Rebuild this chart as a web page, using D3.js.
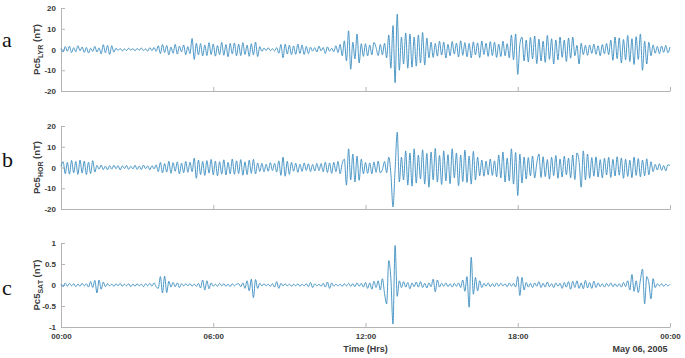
<!DOCTYPE html>
<html>
<head>
<meta charset="utf-8">
<script src="https://cdn.jsdelivr.net/npm/d3@7"></script>
<style>
  body { margin: 0; background: #fff; }
  .axis path, .axis line { stroke: #b4b4b4; }
  .axis text { fill: #3a3a3a; font-family: "Liberation Sans", Arial, sans-serif; font-weight: bold; font-size: 8px; }
</style>
</head>
<body>
<div id="chart"></div>
<script>
// Pc5 filtered field, one value every 5 minutes, 5 May 2005 00:00 UT -> 6 May 00:00 UT (one row = one hour)
const lyr = [
  0.5, -1.2, 1.4, -0.8, 1.6, -1.5, 0.9, -1.1, 1.8, -0.6, 1.2, -1.4,
  1.0, -1.7, 0.6, -0.9, 1.5, -1.2, 0.8, -2.1, 2.3, -1.6, 2.0, -2.4,
  1.8, -1.3, 0.6, -0.4, 0.5, -0.7, 0.3, -0.5, 0.6, -0.3, 0.4, -0.6,
  0.5, -0.4, 0.7, -0.5, 0.3, -0.8, 0.9, -0.6, 1.0, -0.9, 1.8, -2.0,
  2.4, -1.5, 1.9, -2.6, 1.2, -1.8, 2.5, -2.2, 1.6, -1.1, 2.2, -2.5,
  1.4, -2.0, 5.3, -4.8, 3.0, -2.6, 2.8, -3.1, 2.2, -2.9, 3.3, -2.4,
  2.7, -3.2, 1.9, -2.5, 3.4, -2.8, 2.4, -3.5, 2.9, -2.1, 3.1, -3.0,
  2.6, -2.9, 3.3, -2.4, 2.1, -3.3, 2.8, -2.6, 3.6, -3.4, 1.4, -0.9,
  0.7, -0.5, 0.8, -0.6, 0.4, -0.7, 0.9, -1.8, 2.4, -4.0, 2.6, -2.2,
  2.1, -2.5, 1.7, -2.3, 2.6, -1.9, 2.2, -2.4, 1.5, -2.0, 1.1, -0.8,
  0.9, -1.2, 1.6, -0.7, 1.0, -1.9, 1.3, -0.8, 0.6, -1.1, 1.8, -1.5,
  2.5, -3.0, 4.2, -5.5, 9.0, -9.5, 3.5, -4.5, 7.5, -6.5, 2.8, -3.3,
  2.8, -3.1, 2.2, -2.6, 3.4, 1.0, -2.9, 2.4, -2.5, 3.0, -4.0, 7.0,
  -9.0, 11.5, -16.0, 17.0, -10.0, 6.0, -7.0, 8.0, -9.0, 7.5, -8.5, 6.0,
  -8.0, 7.0, -6.5, 8.2, -7.5, 5.5, -4.0, 3.5, -3.8, 2.9, -3.2, 4.0,
  -2.7, 3.6, -4.1, 2.5, -3.0, 3.8, -2.2, 3.1, -3.6, 4.2, -2.8, 3.3,
  -3.5, 2.9, -4.0, 3.7, -2.6, 3.2, -3.9, 4.1, -2.4, 3.0, -3.3, 3.8,
  -2.9, 3.5, -3.8, 2.6, -3.4, 4.0, -3.0, 2.8, -4.0, 7.0, -5.0, 7.5,
  -12.0, 2.5, 6.0, -5.5, 4.5, -6.0, 5.8, -4.5, 6.5, -6.8, 5.0, -5.5,
  4.0, -6.2, 6.8, -4.8, 5.2, -7.0, 4.6, -5.0, 6.0, -3.8, 4.5, -5.8,
  5.5, -4.2, 6.0, -3.0, 2.0, -7.0, 3.0, -2.5, 2.0, -2.8, 2.2, -1.9,
  2.6, -2.3, 1.8, -3.0, 2.4, -2.1, 2.9, -2.5, 4.5, -5.2, 6.0, -4.4,
  5.6, -6.5, 4.8, -5.0, 6.8, -5.8, 5.2, -7.2, 6.2, -4.8, 7.5, -10.0,
  4.0, -7.0, 3.5, -3.0, 2.2, -1.8, 1.5, -2.0, 1.7, -1.4, 2.0, -1.6,
  1.2
];

const hor = [
  0.5, 2.8, -3.0, 2.5, -3.2, 3.4, -2.6, 2.9, -3.3, 3.6, -2.7, 3.1,
  -3.4, 2.6, -2.9, 3.3, -2.2, 1.0, -0.8, 1.2, -1.0, 0.7, -1.1, 0.9,
  -0.8, 1.1, -0.6, 0.9, -1.2, 0.8, -0.5, 1.0, -0.9, 0.6, -0.7, 1.1,
  -0.9, 0.7, -1.0, 1.2, -0.6, 0.8, -1.1, 0.9, -0.7, 1.3, -2.0, 2.5,
  -2.6, 1.9, -2.2, 3.0, -2.8, 2.3, -1.8, 2.7, -3.1, 2.1, -2.5, 2.9,
  -2.3, 2.6, -2.0, 4.5, -5.2, 3.6, -3.4, 2.9, -3.8, 3.3, -2.7, 3.9,
  -3.5, 3.0, -4.0, 2.8, -3.2, 3.7, -3.6, 2.5, -3.0, 4.1, -3.3, 3.2,
  -2.9, 3.8, -3.7, 2.7, -3.4, 3.5, -2.8, 3.9, -3.1, 2.2, -1.9, 2.0,
  -2.1, 1.6, -1.8, 2.3, -1.5, 2.0, -2.2, 3.2, -3.8, 5.0, -4.2, 3.0,
  -3.3, 2.5, -1.8, 2.1, -2.3, 1.6, -1.9, 2.2, -1.4, 1.8, -2.0, 1.5,
  -1.7, 2.0, -1.5, 1.9, -2.1, 2.6, -2.4, 2.2, -2.8, 2.5, -2.0, 2.9,
  -3.0, 2.0, 4.0, -8.5, 9.0, -6.0, 6.5, -7.0, 5.5, -6.2, 4.0, -3.0,
  2.4, -2.8, 2.2, -3.0, 2.7, -2.3, 3.1, -2.6, -1.0, 2.9, -2.5, 5.0,
  -3.0, -19.0, -1.0, 17.0, -7.0, 5.0, -6.0, 8.0, -8.5, 7.0, -9.0, 9.0,
  -7.5, 6.0, -5.5, 8.5, -8.0, 6.8, -9.5, 7.5, -6.0, 9.2, -7.0, 5.8,
  -8.2, 8.0, -6.5, 6.2, -7.8, 9.0, -5.0, 7.0, -8.8, 6.0, -6.8, 8.4,
  -7.2, 5.5, -8.0, 7.8, -6.0, 5.0, -4.0, 3.6, -4.2, 3.0, -3.5, 4.1,
  -3.8, 3.2, -4.5, 6.0, -5.0, 7.5, -7.0, 4.5, -6.5, 9.0, -8.0, 7.2,
  -13.5, 6.5, -7.5, 5.0, -5.5, 4.8, -4.0, 5.5, -5.0, 2.0, 6.5, -4.8,
  5.2, -4.4, 3.8, -5.6, 4.9, -3.9, 5.8, -5.2, 4.1, -4.6, 5.4, -3.5,
  4.5, -5.0, 6.0, -5.8, 7.0, 3.0, -9.5, 8.0, -6.0, 6.5, -5.2, 4.8,
  -4.2, 5.1, -4.6, 3.8, -5.0, 4.4, -3.6, 4.9, -4.8, 3.9, -4.1, 5.2,
  -3.7, 4.6, -5.2, 4.0, -4.3, 3.5, -4.9, 5.0, -3.8, 4.3, -4.5, 3.6,
  -4.0, 4.2, -3.5, 2.8, -2.0, 1.5, -1.2, 1.8, -1.4, 1.0, -1.6, 1.3,
  1.0
];

const sat = [
  0.02, -0.04, 0.05, -0.03, 0.04, -0.02, 0.03, -0.04, 0.02, -0.03, 0.04, -0.02,
  0.03, -0.05, 0.08, -0.06, 0.11, -0.19, 0.12, -0.10, 0.07, -0.04, 0.03, -0.02,
  0.02, -0.03, 0.03, -0.02, 0.04, -0.03, 0.02, -0.02, 0.03, -0.04, 0.02, -0.03,
  0.03, -0.02, 0.02, -0.04, 0.03, -0.02, 0.04, -0.03, 0.05, -0.04, -0.08, 0.20,
  -0.19, 0.21, -0.18, 0.09, -0.05, 0.06, -0.04, 0.05, -0.06, 0.03, -0.02, 0.03,
  -0.02, 0.03, -0.03, 0.02, -0.03, 0.04, -0.07, 0.12, -0.12, 0.10, -0.09, 0.05,
  -0.03, 0.02, -0.03, 0.04, -0.02, 0.03, -0.03, 0.02, -0.04, 0.03, -0.02, 0.02,
  0.03, -0.04, 0.05, -0.08, 0.10, -0.14, 0.14, -0.30, 0.13, -0.08, 0.04, -0.02,
  0.03, -0.02, 0.02, -0.03, 0.03, -0.05, 0.08, -0.08, 0.04, -0.02, 0.03, -0.02,
  0.02, -0.03, 0.02, -0.02, 0.03, -0.03, 0.02, -0.02, 0.03, -0.04, 0.06, -0.06,
  0.03, -0.02, 0.02, -0.03, 0.04, -0.05, 0.07, -0.08, 0.05, -0.03, 0.02, -0.02,
  0.02, -0.03, 0.03, -0.02, 0.04, -0.03, 0.03, -0.04, 0.05, -0.03, 0.04, -0.05,
  0.06, -0.08, 0.05, -0.10, 0.09, -0.06, 0.10, -0.12, 0.15, -0.20, -0.45, 0.58,
  0.15, -0.93, 0.94, -0.27, 0.10, -0.06, 0.08, -0.05, 0.06, -0.09, 0.05, -0.04,
  0.07, -0.05, 0.08, -0.06, 0.04, -0.07, 0.05, -0.04, 0.14, -0.16, 0.12, -0.05,
  0.04, -0.03, 0.05, -0.04, 0.03, -0.05, 0.04, -0.03, 0.05, -0.06, 0.12, -0.15,
  0.20, -0.53, 0.66, -0.22, 0.18, -0.14, 0.10, -0.06, 0.04, -0.03, 0.05, -0.04,
  0.03, -0.04, 0.05, -0.03, 0.04, -0.02, 0.03, -0.04, 0.05, -0.03, 0.04, -0.05,
  0.20, -0.25, 0.18, -0.12, 0.06, -0.05, 0.04, -0.06, 0.05, -0.03, 0.08, -0.06,
  0.04, -0.05, 0.07, -0.04, 0.03, -0.06, 0.05, -0.03, 0.04, -0.08, 0.06, -0.05,
  0.08, -0.10, 0.09, -0.06, 0.10, -0.08, 0.05, -0.09, 0.11, -0.07, 0.06, -0.08,
  0.09, -0.06, 0.05, -0.04, 0.03, -0.05, 0.04, -0.03, 0.05, -0.04, 0.03, -0.04,
  0.03, -0.05, 0.06, -0.04, 0.10, -0.12, 0.25, -0.15, 0.10, -0.18, 0.12, 0.38,
  -0.45, 0.20, 0.05, -0.33, 0.15, -0.06, 0.03, -0.02, 0.03, -0.03, 0.02, -0.02,
  0.02
];

const nTTicks = [-20, -10, 0, 10, 20];
const satTicks = [-1, -0.5, 0, 0.5, 1];
const hourTicks = [0, 6, 12, 18, 24];
const dayStart = Date.UTC(2005, 4, 5);
const sampleMinutes = 5;

const W = 685, H = 358;
const left = 61, right = 670;
const lineColor = "#3a8cbf";

const svg = d3.select("#chart").append("svg")
  .attr("width", W).attr("height", H)
  .style("display", "block");

const times = d3.range(lyr.length).map(i => new Date(dayStart + i * sampleMinutes * 60000));
const x = d3.scaleUtc().domain([new Date(dayStart), new Date(dayStart + 24 * 3600000)]).range([left, right]);
const xTicks = hourTicks.map(h => new Date(dayStart + h * 3600000));

const panels = [
  { values: lyr, ticks: nTTicks, top: 8,   bottom: 91,  sub: "LYR", letter: "a", letterY: 47 },
  { values: hor, ticks: nTTicks, top: 126, bottom: 209, sub: "HOR", letter: "b", letterY: 167 },
  { values: sat, ticks: satTicks, top: 243, bottom: 327, sub: "SAT", letter: "c", letterY: 295 }
];

panels.forEach((p, k) => {
  const y = d3.scaleLinear().domain([p.ticks[0], p.ticks[p.ticks.length - 1]]).range([p.bottom, p.top]);
  const last = k === panels.length - 1;

  svg.append("g").attr("class", "axis")
    .attr("transform", `translate(0,${p.bottom})`)
    .call(d3.axisBottom(x).tickValues(xTicks).tickSizeInner(-4).tickSizeOuter(0).tickPadding(6)
      .tickFormat(last ? d3.utcFormat("%H:%M") : ""));

  svg.append("g").attr("class", "axis")
    .attr("transform", `translate(${left},0)`)
    .call(d3.axisLeft(y).tickValues(p.ticks).tickSizeInner(-4).tickSizeOuter(0).tickPadding(5)
      .tickFormat(d => String(d)));

  svg.append("path")
    .datum(p.values)
    .attr("fill", "none")
    .attr("stroke", lineColor)
    .attr("stroke-width", 0.9)
    .attr("stroke-linejoin", "round")
    .attr("d", d3.line().curve(d3.curveMonotoneX).x((d, i) => x(times[i])).y(d => y(d)));

  // y label: Pc5 with station subscript
  const lab = svg.append("text")
    .attr("transform", `translate(40,${(p.top + p.bottom) / 2}) rotate(-90)`)
    .attr("text-anchor", "middle")
    .attr("fill", "#3a3a3a")
    .style("font-family", "Liberation Sans, Arial, sans-serif")
    .style("font-weight", "bold")
    .style("font-size", "9.5px");
  lab.append("tspan").text("Pc5");
  lab.append("tspan").attr("dy", 2.5).style("font-size", "7px").text(p.sub);
  lab.append("tspan").attr("dy", -2.5).text(" (nT)");

  svg.append("text")
    .attr("x", 2).attr("y", p.letterY)
    .attr("fill", "#111")
    .style("font-family", "Liberation Serif, Times New Roman, serif")
    .style("font-size", "22px")
    .text(p.letter);
});

svg.append("text")
  .attr("x", x(xTicks[2])).attr("y", 352)
  .attr("text-anchor", "middle")
  .attr("fill", "#3a3a3a")
  .style("font-family", "Liberation Sans, Arial, sans-serif")
  .style("font-weight", "bold").style("font-size", "9px")
  .text("Time (Hrs)");

svg.append("text")
  .attr("x", 640).attr("y", 352)
  .attr("text-anchor", "middle")
  .attr("fill", "#3a3a3a")
  .style("font-family", "Liberation Sans, Arial, sans-serif")
  .style("font-weight", "bold").style("font-size", "9px")
  .text("May 06, 2005");
</script>
</body>
</html>
